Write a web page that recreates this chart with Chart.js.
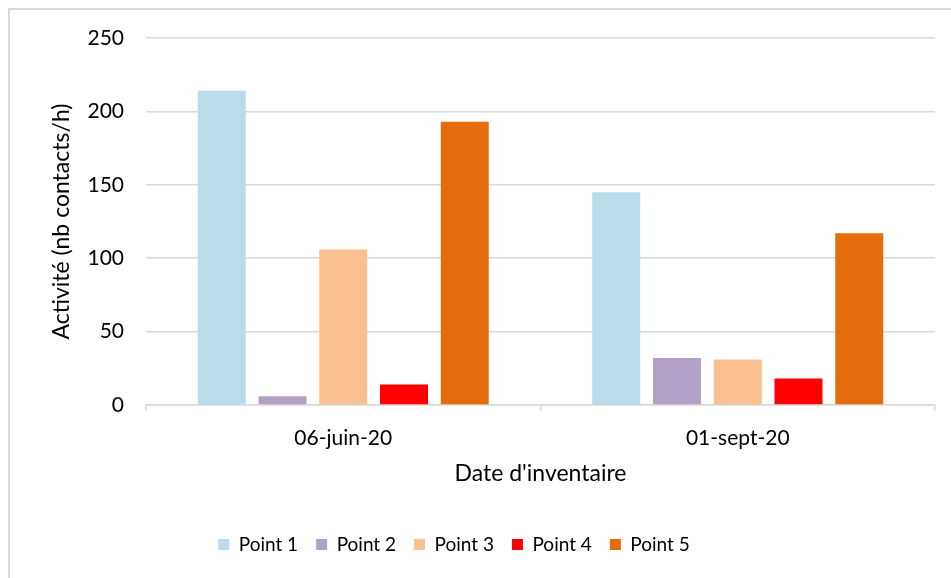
<!DOCTYPE html>
<html>
<head>
<meta charset="utf-8">
<script src="https://cdn.jsdelivr.net/npm/chart.js@4/dist/chart.umd.min.js"></script>
<style>
    html, body { margin: 0; padding: 0; background: #ffffff; }
    #frame { position: absolute; left: 8px; top: 8px; width: 960px; height: 600px; border: 2px solid #d9d9d9; box-sizing: border-box; }
    #wrap { position: absolute; left: 0; top: 0; width: 951px; height: 578px; }
</style>
</head>
<body>
<div id="frame"></div>
<div id="wrap"><canvas id="chartActivite" width="951" height="578"></canvas></div>
<script>
    const dates = ['06-juin-20', '01-sept-20'];
    const point1 = [214, 145];
    const point2 = [6, 32];
    const point3 = [106, 31];
    const point4 = [14, 18];
    const point5 = [193, 117];
    const yTicks = [0, 50, 100, 150, 200, 250];

    const police = 'Lato, "Noto Sans", sans-serif';

    function serie(label, data, couleur) {
        return {
            label: label,
            data: data,
            backgroundColor: couleur,
            borderWidth: 0,
            categoryPercentage: 0.77,
            barPercentage: 0.79
        };
    }

    // décale la légende vers la gauche, comme dans l'original
    const decalageLegende = {
        id: 'decalageLegende',
        afterLayout: function (chart) {
            const lg = chart.legend;
            if (!lg) return;
            lg.left -= 36;
            lg.right -= 36;
        }
    };

    const ctx = document.getElementById('chartActivite').getContext('2d');

    new Chart(ctx, {
        type: 'bar',
        data: {
            labels: dates,
            datasets: [
                serie('Point 1', point1, '#b7dde8'),
                serie('Point 2', point2, '#b2a1c7'),
                serie('Point 3', point3, '#fac090'),
                serie('Point 4', point4, '#ff0000'),
                serie('Point 5', point5, '#e46c0a')
            ]
        },
        plugins: [decalageLegende],
        options: {
            responsive: false,
            animation: false,
            layout: { padding: { left: 45, right: 16, top: 38, bottom: 14 } },
            plugins: {
                legend: {
                    position: 'bottom',
                    labels: {
                        color: '#000000',
                        font: { family: police, size: 19 },
                        boxWidth: 11,
                        boxHeight: 11,
                        padding: 18
                    }
                },
                tooltip: { enabled: false }
            },
            scales: {
                x: {
                    afterFit: function (scale) { scale.height = 112; },
                    grid: {
                        offset: true,
                        drawOnChartArea: false,
                        drawTicks: true,
                        tickLength: 6,
                        color: '#d9d9d9',
                        lineWidth: 1.5
                    },
                    border: { color: '#d9d9d9', width: 1.5 },
                    ticks: { color: '#000000', font: { family: police, size: 21 }, padding: 15 },
                    title: {
                        display: true,
                        text: "Date d'inventaire",
                        color: '#000000',
                        font: { family: police, size: 23 },
                        padding: { top: 4, bottom: 30 }
                    }
                },
                y: {
                    min: 0,
                    max: 250,
                    afterBuildTicks: function (scale) {
                        scale.ticks = yTicks.map(function (v) { return { value: v }; });
                    },
                    afterFit: function (scale) { scale.width = 101; },
                    grid: { color: '#d9d9d9', lineWidth: 1.5, drawTicks: false },
                    border: { display: false },
                    ticks: { color: '#000000', font: { family: police, size: 21 }, padding: 22 },
                    title: {
                        display: true,
                        text: 'Activité (nb contacts/h)',
                        color: '#000000',
                        font: { family: police, size: 23 },
                        padding: 3
                    }
                }
            }
        }
    });
</script>
</body>
</html>
